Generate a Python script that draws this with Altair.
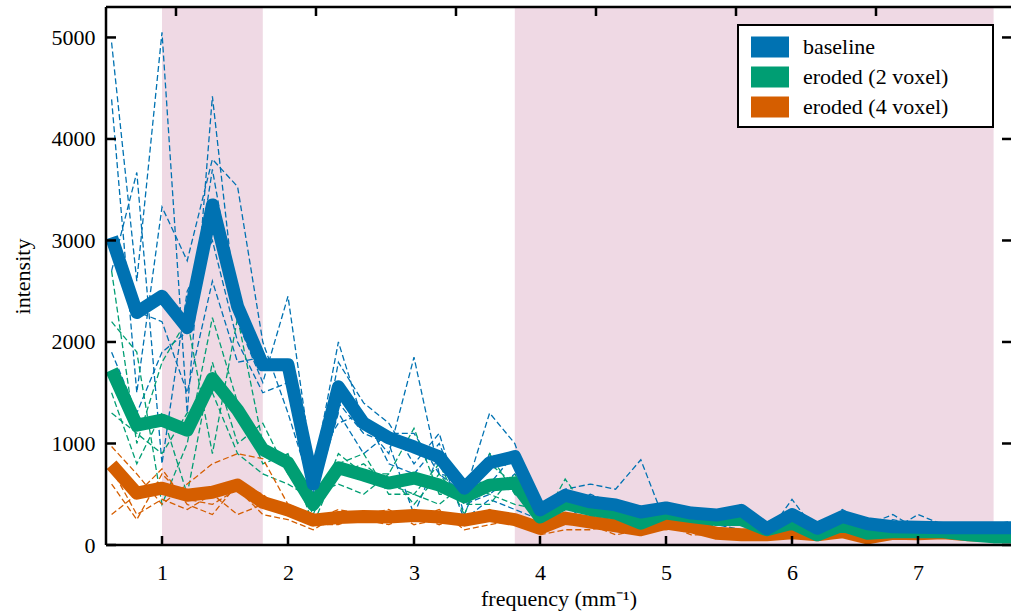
import altair as alt
import pandas as pd

FONT = "Liberation Serif"

freq = [0.6, 0.8, 1.0, 1.2, 1.4, 1.6, 1.8, 2.0, 2.2, 2.4, 2.6, 2.8, 3.0, 3.2, 3.4, 3.6,
        3.8, 4.0, 4.2, 4.4, 4.6, 4.8, 5.0, 5.2, 5.4, 5.6, 5.8, 6.0, 6.2, 6.4, 6.6, 6.8,
        7.0, 7.2, 7.4, 7.6, 7.8]

series_names = ["baseline", "eroded (2 voxel)", "eroded (4 voxel)"]
colors = ["#0072B2", "#009E73", "#D55E00"]

baseline_mean = [3030, 2290, 2450, 2140, 3350, 2350, 1775, 1775, 600, 1558,
                 1200, 1055, 966, 868, 560, 810, 870, 345, 490, 425,
                 395, 325, 365, 315, 295, 340, 160, 300, 165, 280,
                 210, 180, 175, 170, 170, 170, 170]
eroded2_mean = [1725, 1180, 1230, 1130, 1640, 1330, 940, 810, 400, 760,
                690, 610, 660, 590, 475, 590, 610, 275, 410, 350,
                315, 215, 315, 280, 250, 250, 150, 215, 100, 195,
                115, 130, 130, 130, 100, 80, 80]
eroded4_mean = [790, 510, 560, 490, 520, 590, 420, 345, 245, 270,
                280, 275, 290, 275, 245, 290, 250, 165, 265, 225,
                190, 150, 215, 180, 115, 100, 100, 120, 100, 130,
                70, 115, 110, 120, 100, 90, 90]

baseline_samples = [
    [4950, 2600, 5050, 1300, 4420, 2200, 1600, 2450, 700, 2000,
     1200, 900, 1850, 700, 500, 1300, 1000, 300, 550, 600,
     550, 840, 200, 350, 150, 250, 100, 450, 120, 200,
     250, 150, 300, 200, 100, 200, 250],
    [4390, 1500, 3330, 2800, 3800, 3530, 2000, 1300, 500, 1800,
     1400, 1200, 800, 1100, 300, 900, 800, 350, 400, 500,
     400, 300, 350, 200, 300, 400, 150, 350, 150, 300,
     150, 250, 200, 150, 200, 150, 150],
    [2700, 3670, 800, 2500, 3000, 2000, 1500, 1600, 450, 1300,
     900, 1100, 1100, 700, 650, 600, 900, 200, 500, 300,
     350, 250, 250, 300, 250, 300, 120, 250, 100, 200,
     200, 300, 150, 200, 200, 100, 200],
    [1900, 1300, 1900, 2100, 3700, 2300, 1800, 1700, 800, 1200,
     1300, 800, 700, 1000, 400, 500, 700, 350, 400, 200,
     200, 200, 250, 150, 350, 300, 150, 200, 150, 350,
     200, 150, 150, 100, 150, 200, 100],
    [3000, 2300, 2200, 1500, 2600, 1800, 1850, 1700, 600, 1400,
     1100, 1000, 300, 900, 250, 450, 350, 250, 400, 300,
     200, 250, 300, 250, 200, 150, 100, 300, 120, 200,
     200, 150, 100, 150, 200, 150, 150],
]
eroded2_samples = [
    [2700, 1000, 1800, 2220, 900, 2240, 1000, 800, 300, 900,
     700, 700, 1150, 500, 500, 800, 600, 200, 650, 300,
     350, 200, 350, 250, 300, 250, 100, 300, 100, 250,
     150, 200, 150, 200, 150, 100, 100],
    [2200, 1900, 400, 1000, 2240, 1400, 800, 900, 200, 800,
     900, 500, 500, 800, 300, 900, 500, 300, 400, 350,
     250, 300, 250, 300, 200, 200, 150, 350, 150, 200,
     100, 150, 100, 150, 200, 100, 100],
    [1500, 800, 1300, 500, 1800, 1000, 1200, 700, 500, 600,
     500, 700, 400, 700, 400, 400, 700, 250, 350, 400,
     300, 250, 300, 200, 250, 300, 100, 200, 100, 150,
     100, 150, 200, 100, 100, 100, 100],
    [1300, 1100, 900, 1300, 1500, 900, 700, 600, 450, 700,
     800, 600, 500, 400, 600, 500, 400, 350, 300, 200,
     300, 200, 250, 150, 200, 200, 150, 200, 100, 200,
     120, 100, 100, 150, 100, 100, 80],
]
eroded4_samples = [
    [970, 700, 400, 600, 800, 900, 850, 400, 250, 350,
     300, 250, 350, 300, 250, 300, 250, 150, 300, 200,
     150, 100, 250, 150, 100, 100, 80, 150, 100, 120,
     60, 100, 80, 100, 100, 70, 90],
    [300, 500, 750, 400, 300, 600, 500, 300, 200, 200,
     300, 350, 200, 250, 200, 350, 200, 120, 250, 250,
     150, 200, 150, 200, 120, 80, 100, 100, 120, 150,
     80, 120, 100, 120, 80, 100, 80],
    [750, 300, 450, 350, 500, 300, 400, 400, 300, 250,
     250, 200, 300, 200, 300, 250, 300, 200, 200, 200,
     100, 150, 200, 150, 150, 120, 100, 120, 80, 100,
     60, 100, 120, 80, 100, 100, 100],
    [600, 250, 700, 450, 400, 550, 300, 250, 150, 300,
     250, 300, 250, 350, 150, 200, 250, 100, 150, 150,
     200, 100, 200, 100, 100, 100, 80, 100, 100, 100,
     80, 80, 100, 100, 80, 80, 90],
]

band_start = [1.0, 3.8]
band_end = [1.8, 7.6]
x_ticks = [1, 2, 3, 4, 5, 6, 7]
top_ticks = [1.1111, 2.2222, 3.3333, 4.4444, 5.5556, 6.6667]
y_ticks = [0, 1000, 2000, 3000, 4000, 5000]

# ---- build tables ----
means = [baseline_mean, eroded2_mean, eroded4_mean]
samples = [baseline_samples, eroded2_samples, eroded4_samples]

mean_rows = []
for name, vals in zip(series_names, means):
    for f, v in zip(freq, vals):
        mean_rows.append({"freq": f, "value": v, "series": name})
mean_df = pd.DataFrame(mean_rows)

sample_rows = []
for name, group in zip(series_names, samples):
    for k, vals in enumerate(group):
        for f, v in zip(freq, vals):
            sample_rows.append({"freq": f, "value": v, "series": name, "sample": f"{name}-{k}"})
sample_df = pd.DataFrame(sample_rows)

W, H = 905, 538
FS = 22
x_scale = alt.Scale(domain=[0.5556, 7.7381], nice=False, zero=False)
y_scale = alt.Scale(domain=[0, 5300], nice=False, zero=False)
color_scale = alt.Scale(domain=series_names, range=colors)

x_axis = alt.Axis(title="frequency (mm⁻¹)", values=x_ticks, ticks=False, domain=False,
                  grid=False, labelFont=FONT, labelFontSize=FS, labelColor="black",
                  labelPadding=17, labelFlush=False, titleFont=FONT, titleFontSize=FS,
                  titleFontWeight="normal", titleColor="black", titlePadding=5)
y_axis = alt.Axis(title="intensity", values=y_ticks, format="d", ticks=False, domain=False,
                  grid=False, labelFont=FONT, labelFontSize=FS, labelColor="black",
                  labelPadding=11, labelFlush=False, titleFont=FONT, titleFontSize=FS,
                  titleFontWeight="normal", titleColor="black", titlePadding=17)

RECT_PATH = "M-1,-0.5526L1,-0.5526L1,0.5526L-1,0.5526Z"
legend = alt.Legend(title=None, orient="none", legendX=645, legendY=21,
                    symbolType=RECT_PATH, symbolSize=1444, symbolStrokeWidth=0,
                    labelFont=FONT, labelFontSize=FS, labelColor="black",
                    labelOffset=14, rowPadding=0, padding=0)

X = lambda field: alt.X(field, scale=x_scale, axis=x_axis)
Y = lambda field: alt.Y(field, scale=y_scale, axis=y_axis)

bands = pd.DataFrame({"start": band_start, "end": band_end})
band_layer = alt.Chart(bands).mark_rect(color="#EFD9E4").encode(
    x=X("start:Q"),
    x2="end:Q",
    y=alt.value(0),
    y2=alt.value(H),
)

dashed_layers = []
for name, col in zip(series_names, colors):
    d = sample_df[sample_df["series"] == name]
    dashed_layers.append(
        alt.Chart(d).mark_line(color=col, strokeWidth=1.3, strokeDash=[6, 3], clip=True).encode(
            x=X("freq:Q"),
            y=Y("value:Q"),
            detail="sample:N",
        )
    )

thick_layers = []
for name, col in reversed(list(zip(series_names, colors))):
    d = mean_df[mean_df["series"] == name]
    thick_layers.append(
        alt.Chart(d).mark_line(color=col, strokeWidth=13, strokeJoin="round", clip=True).encode(
            x=X("freq:Q"),
            y=Y("value:Q"),
        )
    )

# legend key layer: one swatch per series, placed outside the clipped view
legend_df = pd.DataFrame({"series": series_names, "freq": [0.0] * 3, "value": [0.0] * 3})
legend_layer = alt.Chart(legend_df).mark_point(
    shape=RECT_PATH, filled=True, size=1444, strokeWidth=0, opacity=1, clip=True
).encode(
    x=X("freq:Q"),
    y=Y("value:Q"),
    color=alt.Color("series:N", scale=color_scale, legend=legend),
)

one = pd.DataFrame({"k": [0]})
tick_style = dict(color="black", strokeWidth=2.5)
bottom_ticks = alt.Chart(pd.DataFrame({"t": x_ticks})).mark_rule(**tick_style).encode(
    x=X("t:Q"), y=alt.value(H), y2=alt.value(H - 9))
top_tick_layer = alt.Chart(pd.DataFrame({"t": top_ticks})).mark_rule(**tick_style).encode(
    x=X("t:Q"), y=alt.value(0), y2=alt.value(9))
left_ticks = alt.Chart(pd.DataFrame({"t": y_ticks})).mark_rule(**tick_style).encode(
    y=Y("t:Q"), x=alt.value(0), x2=alt.value(10))
right_ticks = alt.Chart(pd.DataFrame({"t": y_ticks})).mark_rule(**tick_style).encode(
    y=Y("t:Q"), x=alt.value(W), x2=alt.value(W - 9))

frame_top = alt.Chart(one).mark_rule(color="black", strokeWidth=2.5).encode(
    x=alt.value(0), x2=alt.value(W), y=alt.value(0))
frame_bottom = alt.Chart(one).mark_rule(color="black", strokeWidth=2.5).encode(
    x=alt.value(0), x2=alt.value(W), y=alt.value(H))
frame_left = alt.Chart(one).mark_rule(color="black", strokeWidth=2.5).encode(
    x=alt.value(0), y=alt.value(0), y2=alt.value(H))

legend_box = alt.Chart(one).mark_rect(fill="white", stroke="black", strokeWidth=2).encode(
    x=alt.value(632), x2=alt.value(887), y=alt.value(18), y2=alt.value(120))

chart = alt.layer(
    band_layer, *dashed_layers, *thick_layers, legend_layer,
    bottom_ticks, top_tick_layer, left_ticks, right_ticks,
    frame_top, frame_bottom, frame_left, legend_box,
).properties(
    width=W, height=H,
    padding={"left": 106, "top": 7, "right": 0, "bottom": 66},
    autosize=alt.AutoSizeParams(type="none"),
    background="white",
).configure_view(stroke=None)

chart.save("out.html", embed_options={"renderer": "svg", "actions": False})
